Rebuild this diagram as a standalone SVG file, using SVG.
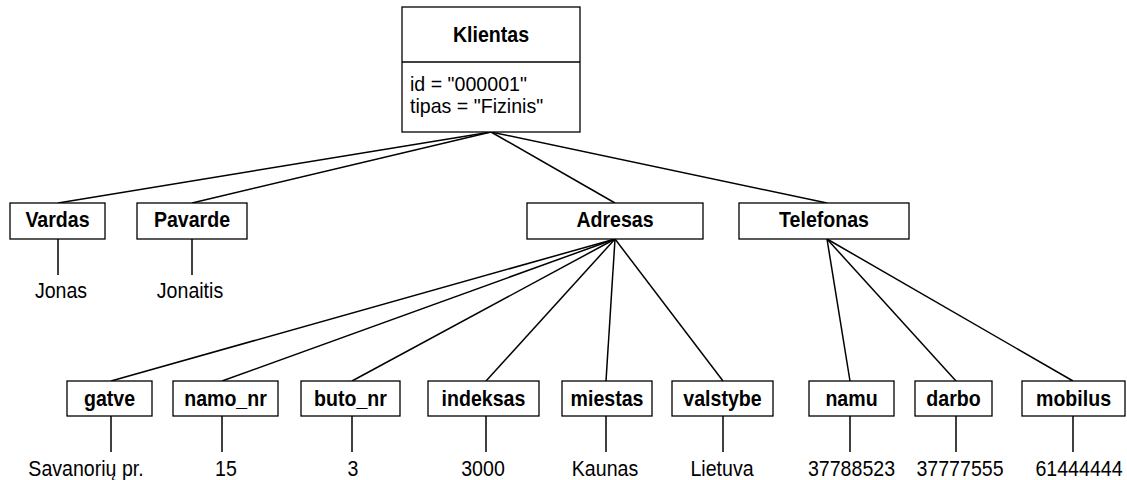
<svg xmlns="http://www.w3.org/2000/svg" width="1127" height="480" viewBox="0 0 1127 480">
<style>
.box{fill:#fff;stroke:#000;stroke-width:1.3}
.lbl{font-family:"Liberation Sans",Arial,sans-serif;font-size:22px;font-weight:bold;text-anchor:middle;fill:#000}
.val{font-family:"Liberation Sans",Arial,sans-serif;font-size:22px;text-anchor:middle;fill:#000}
.att{font-family:"Liberation Sans",Arial,sans-serif;font-size:20px;fill:#000}
.conn line{stroke:#000;stroke-width:1.5}
</style>
<rect width="1127" height="480" fill="#fff"/>
<g id="connectors" class="conn">
<line x1="491" y1="132" x2="58" y2="203"/>
<line x1="491" y1="132" x2="192" y2="203"/>
<line x1="491" y1="132" x2="615" y2="203"/>
<line x1="491" y1="132" x2="827" y2="203"/>
<line x1="615" y1="239" x2="111" y2="381"/>
<line x1="615" y1="239" x2="222" y2="381"/>
<line x1="615" y1="239" x2="352" y2="381"/>
<line x1="615" y1="239" x2="486" y2="381"/>
<line x1="615" y1="239" x2="606" y2="381"/>
<line x1="615" y1="239" x2="723" y2="381"/>
<line x1="827" y1="239" x2="850" y2="381"/>
<line x1="827" y1="239" x2="956" y2="381"/>
<line x1="827" y1="239" x2="1073" y2="381"/>
<line x1="58" y1="239" x2="58" y2="275"/>
<line x1="192" y1="239" x2="192" y2="275"/>
<line x1="111" y1="416" x2="111" y2="452"/>
<line x1="222" y1="416" x2="222" y2="452"/>
<line x1="352" y1="416" x2="352" y2="452"/>
<line x1="486" y1="416" x2="486" y2="452"/>
<line x1="606" y1="416" x2="606" y2="452"/>
<line x1="723" y1="416" x2="723" y2="452"/>
<line x1="850" y1="416" x2="850" y2="452"/>
<line x1="956" y1="416" x2="956" y2="452"/>
<line x1="1073" y1="416" x2="1073" y2="452"/>
</g>
<g id="klientas">
<rect class="box" x="402" y="7" width="178" height="125"/>
<line x1="402" y1="62" x2="580" y2="62" stroke="#000" stroke-width="1.3"/>
<text class="lbl" transform="translate(491,42) scale(0.89,1)">Klientas</text>
<text class="att" transform="translate(410,90.5) scale(0.98,1)">id = "000001"</text>
<text class="att" transform="translate(410,113) scale(0.98,1)">tipas = "Fizinis"</text>
</g>
<g id="vardas">
<rect class="box" x="10" y="203" width="95" height="36"/>
<text class="lbl" transform="translate(57.5,227) scale(0.89,1)">Vardas</text>
<text class="val" transform="translate(61,298) scale(0.89,1)">Jonas</text>
</g>
<g id="pavarde">
<rect class="box" x="137" y="203" width="110" height="36"/>
<text class="lbl" transform="translate(192,227) scale(0.89,1)">Pavarde</text>
<text class="val" transform="translate(190,298) scale(0.89,1)">Jonaitis</text>
</g>
<g id="adresas">
<rect class="box" x="527" y="203" width="176" height="36"/>
<text class="lbl" transform="translate(615,227) scale(0.89,1)">Adresas</text>
</g>
<g id="telefonas">
<rect class="box" x="739" y="203" width="170" height="36"/>
<text class="lbl" transform="translate(824,227) scale(0.89,1)">Telefonas</text>
</g>
<g id="gatve">
<rect class="box" x="67" y="381" width="85" height="35"/>
<text class="lbl" transform="translate(109.5,406) scale(0.89,1)">gatve</text>
<text class="val" transform="translate(86,476) scale(0.89,1)">Savanorių pr.</text>
</g>
<g id="namo_nr">
<rect class="box" x="173" y="381" width="105" height="35"/>
<text class="lbl" transform="translate(225.5,406) scale(0.89,1)">namo_nr</text>
<text class="val" transform="translate(226,476) scale(0.89,1)">15</text>
</g>
<g id="buto_nr">
<rect class="box" x="301" y="381" width="99" height="35"/>
<text class="lbl" transform="translate(350.5,406) scale(0.89,1)">buto_nr</text>
<text class="val" transform="translate(353,476) scale(0.89,1)">3</text>
</g>
<g id="indeksas">
<rect class="box" x="428" y="381" width="111" height="35"/>
<text class="lbl" transform="translate(483.5,406) scale(0.89,1)">indeksas</text>
<text class="val" transform="translate(483,476) scale(0.89,1)">3000</text>
</g>
<g id="miestas">
<rect class="box" x="562" y="381" width="90" height="35"/>
<text class="lbl" transform="translate(607,406) scale(0.89,1)">miestas</text>
<text class="val" transform="translate(605,476) scale(0.89,1)">Kaunas</text>
</g>
<g id="valstybe">
<rect class="box" x="672" y="381" width="101" height="35"/>
<text class="lbl" transform="translate(722.5,406) scale(0.89,1)">valstybe</text>
<text class="val" transform="translate(722,476) scale(0.89,1)">Lietuva</text>
</g>
<g id="namu">
<rect class="box" x="809" y="381" width="85" height="35"/>
<text class="lbl" transform="translate(851.5,406) scale(0.89,1)">namu</text>
<text class="val" transform="translate(851.5,476) scale(0.89,1)">37788523</text>
</g>
<g id="darbo">
<rect class="box" x="915" y="381" width="77" height="35"/>
<text class="lbl" transform="translate(953.5,406) scale(0.89,1)">darbo</text>
<text class="val" transform="translate(960,476) scale(0.89,1)">37777555</text>
</g>
<g id="mobilus">
<rect class="box" x="1022" y="381" width="103" height="35"/>
<text class="lbl" transform="translate(1073.5,406) scale(0.89,1)">mobilus</text>
<text class="val" transform="translate(1079,476) scale(0.89,1)">61444444</text>
</g>
</svg>
